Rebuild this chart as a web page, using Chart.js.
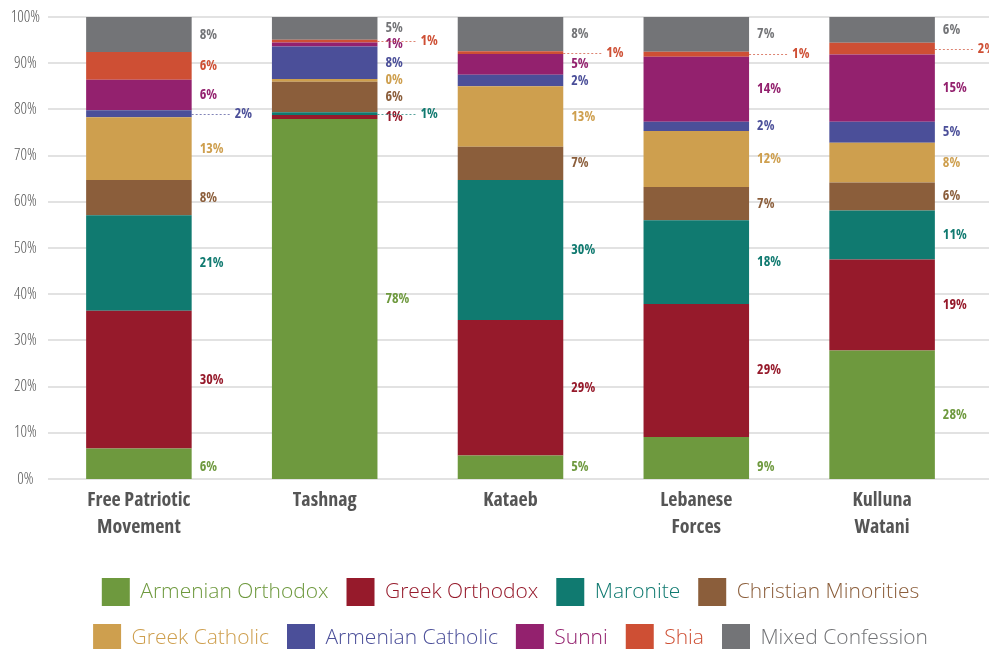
<!DOCTYPE html>
<html>
<head>
<meta charset="utf-8">
<script src="https://cdn.jsdelivr.net/npm/chart.js@4.4.1/dist/chart.umd.min.js"></script>
<style>
  html, body { margin: 0; padding: 0; background: #fff; overflow: hidden; }
  #wrap { width: 989px; height: 662px; }
</style>
</head>
<body>
<div id="wrap"><canvas id="c" width="989" height="662"></canvas></div>
<script>
// ---- data ----
const categories = [["Free Patriotic", "Movement"], "Tashnag", "Kataeb", ["Lebanese", "Forces"], ["Kulluna", "Watani"]];
const seriesNames = ["Armenian Orthodox", "Greek Orthodox", "Maronite", "Christian Minorities", "Greek Catholic", "Armenian Catholic", "Sunni", "Shia", "Mixed Confession"];

const armenianOrthodox   = [6.6, 77.9, 5.1, 9.1, 27.8];
const greekOrthodox      = [29.8, 0.9, 29.3, 28.8, 19.7];
const maronite           = [20.7, 0.6, 30.3, 18.1, 10.6];
const christianMinorities= [7.6, 6.6, 7.2, 7.2, 6.1];
const greekCatholic      = [13.6, 0.6, 13.1, 12.1, 8.6];
const armenianCatholic   = [1.5, 7.0, 2.5, 2.0, 4.5];
const sunni              = [6.6, 0.9, 4.5, 14.1, 14.6];
const shia               = [6.0, 0.6, 0.6, 1.1, 2.5];
const mixedConfession    = [7.6, 4.9, 7.4, 7.5, 5.6];

// printed percentages (as shown in the chart)
const armenianOrthodoxLbl   = [6, 78, 5, 9, 28];
const greekOrthodoxLbl      = [30, 1, 29, 29, 19];
const maroniteLbl           = [21, 1, 30, 18, 11];
const christianMinoritiesLbl= [8, 6, 7, 7, 6];
const greekCatholicLbl      = [13, 0, 13, 12, 8];
const armenianCatholicLbl   = [2, 8, 2, 2, 5];
const sunniLbl              = [6, 1, 5, 14, 15];
const shiaLbl               = [6, 1, 1, 1, 2];
const mixedConfessionLbl    = [8, 5, 8, 7, 6];

const yTicks = [0, 10, 20, 30, 40, 50, 60, 70, 80, 90, 100];

// ---- styles ----
const colors = ["#6E993E", "#961A2B", "#107A70", "#8B5E3B", "#CE9F4E", "#4B4F99", "#93216E", "#CE4F34", "#737477"];
// labels pulled out with a dotted leader: [category index, series index]
const callouts = [[0, 5], [1, 7], [1, 2], [2, 7], [3, 7], [4, 7]];

const seriesValues = [armenianOrthodox, greekOrthodox, maronite, christianMinorities, greekCatholic, armenianCatholic, sunni, shia, mixedConfession];
const seriesLabels = [armenianOrthodoxLbl, greekOrthodoxLbl, maroniteLbl, christianMinoritiesLbl, greekCatholicLbl, armenianCatholicLbl, sunniLbl, shiaLbl, mixedConfessionLbl];

const FAM = "'Open Sans', sans-serif";
// detect whether a condensed width of Open Sans is available
const probe = document.createElement('canvas').getContext('2d');
probe.font = "bold 20px " + FAM;
const wNormal = probe.measureText("Free Patriotic Movement").width;
probe.font = "bold condensed 20px " + FAM;
const wCond = probe.measureText("Free Patriotic Movement").width;
const HAS_COND = wCond < wNormal * 0.93;
const STRETCH = HAS_COND ? ' condensed' : '';
const SX = HAS_COND ? 1 : 0.8;   // horizontal squeeze used when no condensed face exists

function drawText(ctx, text, x, y, font, align, sx) {
  ctx.save();
  ctx.font = font;
  ctx.textAlign = align;
  ctx.translate(x, y);
  ctx.scale(sx, 1);
  ctx.fillText(text, 0, 0);
  ctx.restore();
}

const gridPlugin = {
  id: 'fullGrid',
  beforeDatasetsDraw(chart) {
    const ctx = chart.ctx, ys = chart.scales.y, a = chart.chartArea;
    ctx.save();
    ctx.strokeStyle = '#e2e2e2';
    ctx.lineWidth = 2;
    ys.ticks.forEach(t => {
      const y = Math.round(ys.getPixelForValue(t.value));
      ctx.beginPath();
      ctx.moveTo(a.left + 2, y);
      ctx.lineTo(chart.width, y);
      ctx.stroke();
    });
    ctx.restore();
  }
};

const xLabelPlugin = {
  id: 'xLabels',
  afterDraw(chart) {
    const ctx = chart.ctx, xs = chart.scales.x;
    ctx.save();
    ctx.fillStyle = '#555';
    ctx.textBaseline = 'middle';
    const font = "bold" + STRETCH + " 20px " + FAM;
    categories.forEach((c, i) => {
      const lines = Array.isArray(c) ? c : [c];
      const x = xs.getPixelForTick(i);
      lines.forEach((ln, k) => {
        drawText(ctx, ln, x, xs.top + 21 + k * 27, font, 'center', SX);
      });
    });
    ctx.restore();
  }
};

const labelPlugin = {
  id: 'segLabels',
  afterDatasetsDraw(chart) {
    const ctx = chart.ctx;
    ctx.save();
    const font = "bold" + STRETCH + " 14px " + FAM;
    const sx = HAS_COND ? 1 : 0.86;
    ctx.textBaseline = 'middle';
    const minGap = 16;
    categories.forEach((cat, i) => {
      const items = [];
      seriesValues.forEach((vals, j) => {
        const el = chart.getDatasetMeta(j).data[i];
        const right = el.x + el.width / 2;
        const top = Math.min(el.y, el.base), bot = Math.max(el.y, el.base);
        let cy = (top + bot) / 2;
        if (j === 0 && bot - top < 50) cy = bot - 12;
        const isCallout = callouts.some(c => c[0] === i && c[1] === j);
        items.push({ j, right, cy, y: cy, isCallout, text: seriesLabels[j][i] + '%' });
      });
      const normal = items.filter(it => !it.isCallout).sort((a, b) => a.cy - b.cy);
      for (let k = 1; k < normal.length; k++) {
        if (normal[k].y - normal[k - 1].y < minGap) normal[k].y = normal[k - 1].y + minGap;
      }
      items.forEach(it => {
        ctx.fillStyle = colors[it.j];
        if (it.isCallout) {
          const lx = it.right + 43;
          ctx.save();
          ctx.strokeStyle = colors[it.j];
          ctx.globalAlpha = 0.7;
          ctx.lineWidth = 1;
          ctx.setLineDash([2, 2]);
          ctx.beginPath();
          ctx.moveTo(it.right, Math.round(it.cy) + 0.5);
          ctx.lineTo(lx - 4, Math.round(it.cy) + 0.5);
          ctx.stroke();
          ctx.restore();
          drawText(ctx, it.text, lx, it.cy, font, 'left', sx);
        } else {
          drawText(ctx, it.text, it.right + 8, it.y, font, 'left', sx);
        }
      });
    });
    ctx.restore();
  }
};

const datasets = seriesNames.map((name, j) => ({
  label: name,
  data: seriesValues[j],
  backgroundColor: colors[j],
  borderWidth: 0,
  categoryPercentage: 1.0,
  barPercentage: 0.568
}));

new Chart(document.getElementById('c'), {
  type: 'bar',
  data: { labels: categories, datasets },
  plugins: [gridPlugin, labelPlugin, xLabelPlugin],
  options: {
    responsive: false,
    devicePixelRatio: 1,
    animation: false,
    layout: { padding: { top: 17, right: 14, left: 0, bottom: 0 } },
    plugins: {
      tooltip: { enabled: false },
      legend: {
        position: 'bottom',
        fullSize: false,
        labels: {
          boxWidth: 28,
          boxHeight: 28,
          padding: 18,
          font: { family: FAM, size: 21, weight: '300' },
          generateLabels(chart) {
            const items = Chart.defaults.plugins.legend.labels.generateLabels(chart);
            items.forEach((it, k) => { it.fontColor = colors[k]; it.lineWidth = 0; it.strokeStyle = 'rgba(0,0,0,0)'; });
            return items;
          }
        }
      }
    },
    scales: {
      x: {
        stacked: true,
        grid: { display: false },
        border: { display: false },
        ticks: { display: false },
        afterFit(scale) { scale.height = 81; }
      },
      y: {
        stacked: true,
        min: 0,
        max: 100,
        grid: { display: false, drawTicks: false },
        border: { display: false },
        afterBuildTicks(scale) { scale.ticks = yTicks.map(v => ({ value: v })); },
        afterFit(scale) { scale.width = 46; },
        ticks: {
          crossAlign: 'center',
          padding: 6,
          color: '#555',
          font: { family: FAM, size: HAS_COND ? 16 : 14, weight: '300' + STRETCH },
          callback: v => v + '%'
        }
      }
    }
  }
});
</script>
</body>
</html>
